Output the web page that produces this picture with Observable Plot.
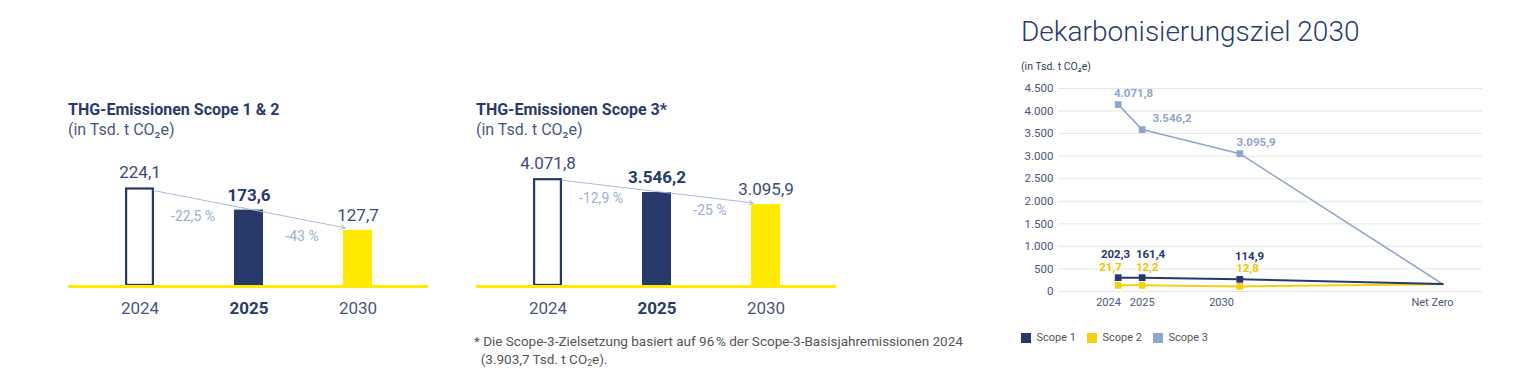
<!DOCTYPE html>
<html><head><meta charset="utf-8">
<script src="https://cdn.jsdelivr.net/npm/d3@7"></script>
<script src="https://cdn.jsdelivr.net/npm/@observablehq/plot@0.6"></script>
<style>
body{margin:0;background:#fff;font-family:Roboto,"Noto Sans",sans-serif;}
#root{position:relative;width:1530px;height:369px;overflow:hidden;background:#fff;}
.abs{position:absolute;white-space:nowrap;line-height:1;}
.t1{font-weight:700;font-size:16px;color:#2a3a6b;}
.t2{font-size:16px;color:#4a5680;}
.big{font-size:28px;font-weight:300;color:#2a3a6b;}
.small{font-size:10.5px;color:#2f3b63;}
.foot{font-size:13.5px;color:#555;line-height:18px;white-space:normal;width:560px;}
.foot div{padding-left:8px;text-indent:-8px;}
.foot sub{font-size:8.5px;line-height:0;vertical-align:-2px;}
#leg, #leg *{font-family:Roboto,sans-serif !important;font-size:11px !important;color:#555 !important;}
</style></head><body><div id="root"></div>
<script>
// ---------- data ----------
const years = ["2024", "2025", "2030"];
const scope12Values = [224.1, 173.6, 127.7];
const scope12Labels = ["224,1", "173,6", "127,7"];
const scope12Changes = ["-22,5 %", "-43 %"];
const scope3Values = [4071.8, 3546.2, 3095.9];
const scope3Labels = ["4.071,8", "3.546,2", "3.095,9"];
const scope3Changes = ["-12,9 %", "-25 %"];

const pathYears = [2024, 2025, 2030, 2040];           // last one = "Net Zero"
const pathTickLabels = ["2024", "2025", "2030", "Net Zero"];
const pathScope1 = [307, 307, 269, 165];
const pathScope2 = [136, 136, 113, 160];
const pathScope3 = [4144, 3589, 3055, 165];
const pathScope1Labels = ["202,3", "161,4", "114,9"];
const pathScope2Labels = ["21,7", "12,2", "12,8"];
const pathScope3Labels = ["4.071,8", "3.546,2", "3.095,9"];
const yTicks = [0, 500, 1000, 1500, 2000, 2500, 3000, 3500, 4000, 4500];
const seriesNames = ["Scope 1", "Scope 2", "Scope 3"];

// ---------- styles ----------
const NAVY = "#27396b", YELLOW = "#ffea00", GOLD = "#f5cf12", GOLDTXT = "#f0c400";
const LIGHT = "#8ea5cc", ARROW = "#a9b9d8", PCT = "#9aaed2", TXT = "#3d4a78", AX = "#4a5680";
const FONT = "Roboto, 'Noto Sans', sans-serif";

const root = document.getElementById("root");
function place(el, left, top) {
  const d = document.createElement("div");
  d.className = "abs";
  d.style.left = left + "px"; d.style.top = top + "px";
  d.appendChild(el);
  root.appendChild(d);
  return d;
}
function html(text, cls, left, top) {
  const d = document.createElement("div");
  d.className = "abs " + cls;
  d.style.left = left + "px"; d.style.top = top + "px";
  d.innerHTML = text;
  root.appendChild(d);
  return d;
}

function barPanel(values, labels, changes, yMax) {
  const data = years.map((year, i) => ({year, value: values[i], label: labels[i], i}));
  const changeData = changes.map((label, i) => ({from: years[i], value: values[i + 1], label}));
  const regular = data.filter(d => d.i !== 1), bold = data.filter(d => d.i === 1);
  return Plot.plot({
    width: 450, height: 180, marginLeft: 68, marginRight: 22, marginTop: 4, marginBottom: 44,
    x: {domain: years, paddingInner: 0.735, paddingOuter: 0.515, axis: null},
    y: {domain: [0, yMax], axis: null},
    style: {fontFamily: FONT, background: "transparent", overflow: "visible"},
    marks: [
      Plot.barY(data.filter(d => d.i === 1), {x: "year", y: "value", fill: NAVY}),
      Plot.barY(data.filter(d => d.i === 2), {x: "year", y: "value", fill: YELLOW}),
      Plot.barY(data.filter(d => d.i === 0), {x: "year", y: "value", fill: "#fff", stroke: NAVY, strokeWidth: 2.2, inset: 1.1}),
      Plot.ruleY([0], {stroke: YELLOW, strokeWidth: 3}),
      Plot.arrow([data], {x1: d => d[0].year, y1: d => d[0].value, x2: d => d[2].year, y2: d => d[2].value,
        stroke: ARROW, strokeWidth: 1, insetStart: 14, insetEnd: 13, headLength: 7}),
      Plot.text(changeData, {x: "from", y: "value", text: "label", dx: 53, dy: 6, fill: PCT, fontSize: 14}),
      Plot.text(regular, {x: "year", y: "value", text: "label", dy: -15, fontSize: 17, fill: TXT}),
      Plot.text(bold, {x: "year", y: "value", text: "label", dy: -15, fontSize: 17, fill: NAVY, fontWeight: "bold"}),
      Plot.text(regular, {x: "year", text: "year", frameAnchor: "bottom", dy: 27, fontSize: 17, fill: AX}),
      Plot.text(bold, {x: "year", text: "year", frameAnchor: "bottom", dy: 27, fontSize: 17, fill: NAVY, fontWeight: "bold"})
    ]
  });
}

// Panel 1
html("THG-Emissionen Scope 1 &amp; 2", "t1", 68, 101.5);
html("(in Tsd. t CO₂e)", "t2", 68, 122);
place(barPanel(scope12Values, scope12Labels, scope12Changes, 300), 0, 150);

// Panel 2
html("THG-Emissionen Scope 3*", "t1", 476, 101.5);
html("(in Tsd. t CO₂e)", "t2", 476, 122);
place(barPanel(scope3Values, scope3Labels, scope3Changes, 132 / 0.0265), 408, 150);

html("<div>* Die Scope-3-Zielsetzung basiert auf 96\u202F% der Scope-3-Basisjahremissionen 2024</div><div>&nbsp;&nbsp;(3.903,7 Tsd. t CO<sub>2</sub>e).</div>", "foot", 474, 332);

// Panel 3
html("Dekarbonisierungsziel 2030", "big", 1021, 18);
html("(in Tsd. t CO₂e)", "small", 1021, 61.7);

const fmtInt = d3.formatLocale({decimal: ",", thousands: ".", grouping: [3], currency: ["", "€"]}).format(",d");
const mk = (vals, labels) => pathYears.map((x, i) => ({x, y: vals[i], label: labels[i], i}));
const s1 = mk(pathScope1, pathScope1Labels), s2 = mk(pathScope2, pathScope2Labels), s3 = mk(pathScope3, pathScope3Labels);
const ticks = pathYears.map((x, i) => ({x, label: pathTickLabels[i]}));
const pts = a => a.filter(d => d.i < 3);
// one text mark per item so each label can carry its own horizontal nudge
const perItem = (items, dxs, opts) => items.map((d, k) => Plot.text([d], {...opts, dx: dxs[k]}));

const lineChart = Plot.plot({
  width: 500, height: 250, marginLeft: 58, marginRight: 18, marginTop: 13, marginBottom: 34,
  x: {type: "linear", domain: pathYears, range: [117.7, 141.7, 239.3, 442.3], axis: null},
  y: {domain: [0, 4500]},
  style: {fontFamily: FONT, background: "transparent", overflow: "visible"},
  marks: [
    Plot.gridY(yTicks, {stroke: "#e6e6e6", strokeOpacity: 1}),
    Plot.axisY(yTicks, {tickSize: 0, tickPadding: 5, tickFormat: fmtInt, fontSize: 11.5, color: AX, label: null}),
    ...perItem(ticks, [-9.7, 0, -18.3, -10.3], {x: "x", text: "label", frameAnchor: "bottom", dy: 14, fontSize: 11, fill: AX}),
    Plot.line(s3, {x: "x", y: "y", stroke: LIGHT, strokeWidth: 1.6}),
    Plot.line(s2, {x: "x", y: "y", stroke: GOLD, strokeWidth: 2}),
    Plot.line(s1, {x: "x", y: "y", stroke: NAVY, strokeWidth: 2}),
    Plot.dot(pts(s3), {x: "x", y: "y", symbol: "square", r: 3.8, fill: LIGHT}),
    Plot.dot(pts(s2), {x: "x", y: "y", symbol: "square", r: 3.8, fill: GOLD}),
    Plot.dot(pts(s1), {x: "x", y: "y", symbol: "square", r: 3.8, fill: NAVY}),
    ...perItem(pts(s3), [15.3, 29.8, 16.2], {x: "x", y: "y", text: "label", dy: -11, fill: LIGHT, fontSize: 11.5, fontWeight: "bold"}),
    ...perItem(pts(s1), [-2.7, 8.3, 9.7], {x: "x", y: "y", text: "label", dy: -23, fill: NAVY, fontSize: 11.5, fontWeight: "bold"}),
    ...perItem(pts(s2), [-7.7, 5, 7.7], {x: "x", y: "y", text: "label", dy: -18, fill: GOLDTXT, fontSize: 11.5, fontWeight: "bold"})
  ]
});
place(lineChart, 1000, 75);

const legend = Plot.legend({color: {domain: seriesNames, range: [NAVY, GOLD, LIGHT]}, swatchSize: 10,
  style: {fontFamily: FONT, fontSize: "11px", color: "#555", margin: 0}});
const lw = place(legend, 1021, 321);
lw.id = "leg";
</script>
</body></html>
